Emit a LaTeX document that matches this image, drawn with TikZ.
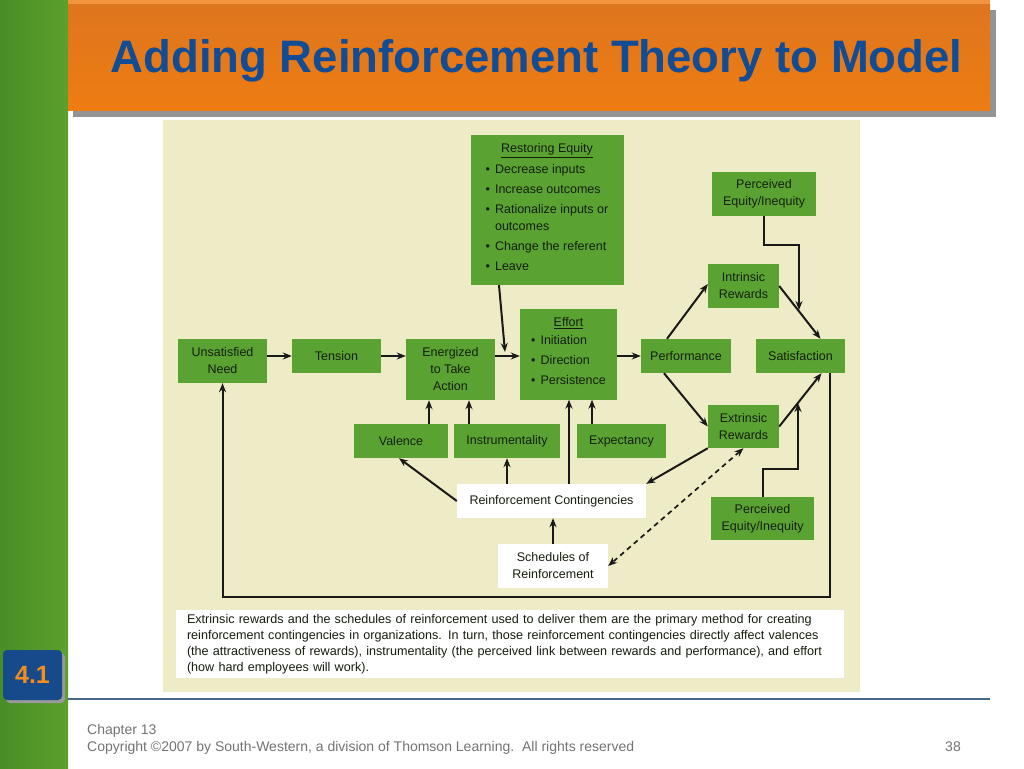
\documentclass[tikz,border=0pt]{standalone}
\usepackage{fontspec}
\setmainfont{Liberation Sans}
\usetikzlibrary{positioning, calc, arrows.meta}

\newcommand{\fsz}[2]{\fontsize{#1}{#2}\selectfont}

\tikzset{
    gbox/.style={fill=mygreen, text=txtdark, align=center, inner sep=2pt, font=\fsz{12.5}{17}},
    wbox/.style={fill=white, text=txtdark, align=center, inner sep=2pt, font=\fsz{12.5}{17}},
    arr/.style={-{Stealth[length=9pt, width=7pt]}, line width=2pt, draw=black!90},
    darr/.style={{Stealth[length=9pt, width=7pt]}-{Stealth[length=9pt, width=7pt]}, line width=1.7pt, draw=black!90, dash pattern=on 5pt off 4pt},
}

\begin{document}
\begin{tikzpicture}[x=1pt, y=-1pt]
    % Colours
    \definecolor{mygreen}{RGB}{90, 163, 50}
    \definecolor{txtdark}{RGB}{22, 30, 14}
    \definecolor{mybeige}{RGB}{238, 235, 199}
    \definecolor{myorange}{RGB}{238, 124, 18}
    \definecolor{lightorange}{RGB}{242, 148, 62}
    \definecolor{titleblue}{RGB}{18, 76, 148}
    \definecolor{linegray}{RGB}{70, 105, 135}
    \definecolor{footgray}{RGB}{115, 115, 115}
    \definecolor{badgeblue}{RGB}{22, 74, 138}
    \definecolor{badgeorange}{RGB}{245, 140, 30}
    \definecolor{bardark}{RGB}{72, 142, 38}
    \definecolor{barlight}{RGB}{120, 192, 58}
    \definecolor{barright}{RGB}{92, 160, 44}

    \useasboundingbox (0,0) rectangle (1024,768);
    \fill[white] (0,0) rectangle (1024,768);

    % 1. Slide frame: green side bar, orange title bar, rule
    \shade[left color=bardark, middle color=barlight, right color=barright] (0,0) rectangle (68,768);
    \fill[lightorange] (68,0) rectangle (990,5);
    \fill[gray!85] (73,10) rectangle (996,117);
    \shade[top color={rgb,255:red,222;green,118;blue,30}, bottom color=myorange] (68,5) rectangle (990,110);
    \node[font=\fsz{45.5}{50}\bfseries, text=titleblue] (title) at (536.5,61) {Adding Reinforcement Theory to Model};
    \draw[linegray, line width=1.5pt] (68,699) -- (990,699);

    % badge
    \fill[gray!80, rounded corners=4pt] (6,653) rectangle (65,703);
    \node[fill=badgeblue, rounded corners=4pt, minimum width=59, minimum height=50, text=badgeorange, font=\fsz{25}{28}\bfseries] (badge) at (32.5,675) {4.1};

    % footer
    \node[anchor=base west, text=footgray, font=\fsz{14}{17}, inner sep=0] (chapter) at (87,734) {Chapter 13};
    \node[anchor=base west, text=footgray, font=\fsz{14}{17}, inner sep=0] (copyright) at (87,751) {Copyright \textcopyright 2007 by South-Western, a division of Thomson Learning.\ \ All rights reserved};
    \node[anchor=base east, text=footgray, font=\fsz{14}{17}, inner sep=0] (pagenum) at (961,751) {38};

    % 2. Panel
    \fill[mybeige] (163,120) rectangle (860,692);

    % 3. Boxes
    \node[gbox, minimum width=153, minimum height=150] (restore) at (547,210) {%
        \underline{Restoring Equity}\\[1pt]
        \fsz{12.5}{20}\begin{tabular}{@{}l@{\hspace{5pt}}l@{}}
        \textbullet & Decrease inputs\\
        \textbullet & Increase outcomes\\
        \textbullet & Rationalize inputs or\\[-3pt]
                    & outcomes\\
        \textbullet & Change the referent\\
        \textbullet & Leave
        \end{tabular}};
    \node[gbox, minimum width=104, minimum height=44] (peqtop) at (764,194) {Perceived\\Equity/Inequity};
    \node[gbox, minimum width=71, minimum height=44] (intr) at (743.5,286) {Intrinsic\\Rewards};

    \node[gbox, minimum width=89, minimum height=44] (need) at (222.5,361) {Unsatisfied\\Need};
    \node[gbox, minimum width=89, minimum height=34] (tension) at (336.5,356) {Tension};
    \node[gbox, minimum width=89, minimum height=61] (energ) at (450.5,369.5) {Energized\\to Take\\Action};
    \node[gbox, minimum width=97, minimum height=91] (effort) at (568.5,354) {%
        \underline{Effort}\\[1pt]
        \fsz{12.5}{20}\begin{tabular}{@{}l@{\hspace{5pt}}l@{}}
        \textbullet & Initiation\\
        \textbullet & Direction\\
        \textbullet & Persistence
        \end{tabular}};
    \node[gbox, minimum width=90, minimum height=34] (perf) at (686,356) {Performance};
    \node[gbox, minimum width=89, minimum height=34] (satis) at (800.5,356) {Satisfaction};

    \node[gbox, minimum width=71, minimum height=43] (extr) at (743.5,426.5) {Extrinsic\\Rewards};
    \node[gbox, minimum width=94, minimum height=34] (valence) at (401,441) {Valence};
    \node[gbox, minimum width=106, minimum height=34] (instr) at (507,441) {Instrumentality};
    \node[gbox, minimum width=89, minimum height=34] (expect) at (621.5,441) {Expectancy};
    \node[gbox, minimum width=103, minimum height=43] (peqbot) at (762.5,518.5) {Perceived\\Equity/Inequity};

    \node[wbox, minimum width=189, minimum height=34] (rc) at (551.5,501) {Reinforcement Contingencies};
    \node[wbox, minimum width=110, minimum height=44] (sched) at (553,566) {Schedules of\\Reinforcement};

    % caption
    \node[fill=white, text=txtdark, minimum width=668, minimum height=68, text width=646, align=left, inner xsep=11pt, font=\fsz{12.6}{16}] (caption) at (510,644) {Extrinsic rewards and the schedules of reinforcement used to deliver them are the primary method for creating\\
    reinforcement contingencies in organizations. In turn, those reinforcement contingencies directly affect valences\\
    (the attractiveness of rewards), instrumentality (the perceived link between rewards and performance), and effort\\
    (how hard employees will work).};

    % 4. Connectors
    \coordinate (ejoin) at (505,352);
    \coordinate (ijoin) at (799,310);
    \coordinate (xjoin) at (798,403);

    \draw[arr] (need.east |- tension) -- (tension);
    \draw[arr] (tension) -- (tension -| energ.west);
    \draw[arr] (energ.east |- tension) -- (effort.west |- tension);
    \draw[arr] ([xshift=-48]restore.south) -- (ejoin);
    \draw[arr] (effort.east |- perf) -- (perf);

    \draw[arr] ([xshift=-19]perf.north) -- ([yshift=2]intr.west);
    \draw[arr] (intr.east) -- ([xshift=20]satis.north);
    \draw[arr] (peqtop.south) -- ++(0,29) -| (ijoin);
    \draw[arr] ([xshift=-22]perf.south) -- (extr.west);
    \draw[arr] (extr.east) -- ([xshift=21]satis.south);
    \draw[arr] (peqbot.north) -- ++(0,-28) -| (xjoin);

    \draw[arr] (extr.south west) -- (rc.north east);
    \draw[darr] (extr.south) -- (sched.east);

    \draw[arr] (rc.west) -- ([xshift=-2]valence.south);
    \draw[arr] (rc.north -| instr) -- (instr.south);
    \draw[arr] ([xshift=17.5]rc.north) -- ([xshift=17.5]rc.north |- effort.south);
    \draw[arr] ([xshift=-29.5]expect.north) -- ([xshift=-29.5]expect.north |- effort.south);
    \draw[arr] ([xshift=28]valence.north) -- ([xshift=28]valence.north |- energ.south);
    \draw[arr] ([xshift=-38]instr.north) -- ([xshift=-38]instr.north |- energ.south);
    \draw[arr] (sched.north) -- (sched.north |- rc.south);

    % feedback loop
    \draw[arr] ([xshift=29.5]satis.south) -- ++(0,224) -| (need.south);
\end{tikzpicture}
\end{document}
